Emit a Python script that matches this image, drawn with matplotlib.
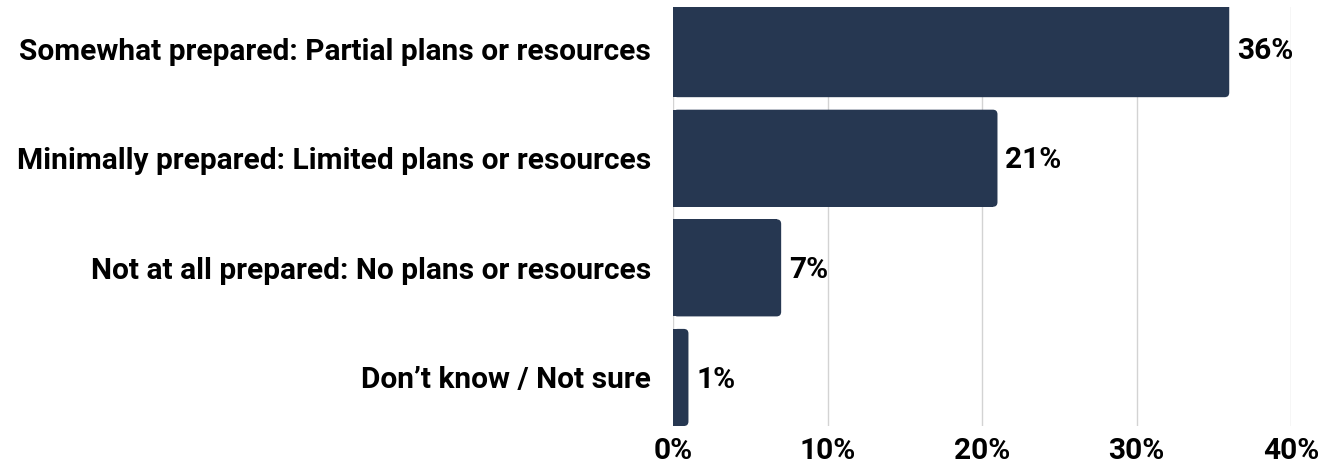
import matplotlib
matplotlib.use("Agg")
import matplotlib.pyplot as plt
from matplotlib.patches import FancyBboxPatch

categories = [
	"Somewhat prepared: Partial plans or resources",
	"Minimally prepared: Limited plans or resources",
	"Not at all prepared: No plans or resources",
	"Don\u2019t know / Not sure",
]
values = [36, 21, 7, 1]
xticks = [0, 10, 20, 30, 40]
xticklabels = ["0%", "10%", "20%", "30%", "40%"]

barColor = "#263751"
gridColor = "#d3d3d3"
fs = 21.5
plt.rcParams["font.family"] = ["Roboto", "DejaVu Sans"]
plt.rcParams["font.weight"] = "bold"

fig = plt.figure(figsize=(13.34, 4.66), dpi=100)
ax = fig.add_axes([0.5045, 0.0858, 0.4633, 0.899])

h = 0.886
r = 0.3  # corner radius in x units
ys = list(range(len(categories)))
ax.barh(ys, [max(v - r, 0) for v in values], height=h, color=barColor, zorder=2)
# rounded right ends
aspect = (1 / 109.5) / (1 / 15.45)
for y, v in zip(ys, values):
	p = FancyBboxPatch((0, y - h / 2), v, h, boxstyle="round,pad=0,rounding_size=%f" % r,
		mutation_aspect=aspect, facecolor=barColor, edgecolor="none", zorder=2)
	ax.add_patch(p)
	ax.text(v + 0.5, y + 0.02, "%d%%" % v, va="center", ha="left", fontsize=fs, fontweight="bold", color="black")

ax.set_xlim(0, 40)
# top bar is clipped by the chart edge
ax.set_ylim(len(categories) - 1 + h / 2, -0.379)
ax.set_xticks(xticks)
ax.set_xticklabels(xticklabels, fontsize=fs, fontweight="bold")
ax.set_yticks(ys)
ax.set_yticklabels(categories, fontsize=fs, fontweight="bold")
ax.tick_params(axis="both", length=0)
ax.tick_params(axis="y", pad=16)
ax.tick_params(axis="x", pad=8)
for s in ax.spines.values():
	s.set_visible(False)
ax.xaxis.grid(True, color=gridColor, linewidth=1, zorder=0)
ax.set_axisbelow(True)

fig.savefig("out.png", dpi=100)
